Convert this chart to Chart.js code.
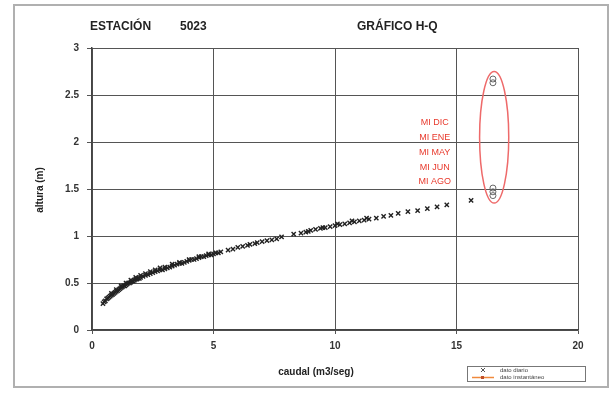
<!DOCTYPE html>
<html>
<head>
<meta charset="utf-8">
<script src="https://cdn.jsdelivr.net/npm/chart.js@4.4.0/dist/chart.umd.min.js"></script>
<style>
  html, body { margin: 0; padding: 0; background: #fff; }
  #wrap { width: 614px; height: 395px; }
</style>
</head>
<body>
<div id="wrap"><canvas id="myChart" width="614" height="395"></canvas></div>
<script>
// dato diario (caudal m3/seg, altura m)
const qDiario = [0.45,0.5,0.55,0.6,0.65,0.7,0.75,0.8,0.85,0.9,0.95,1.0,1.05,1.1,1.15,1.2,1.25,1.3,1.35,1.4,1.45,1.5,1.55,1.6,1.65,1.7,1.75,1.8,1.85,1.9,1.95,2.0,2.1,2.2,2.3,2.4,2.5,2.6,2.7,2.8,2.9,3.0,3.1,3.2,3.3,3.4,3.5,3.6,3.7,3.8,3.9,4.0,4.1,4.2,4.3,4.4,4.5,4.6,4.7,4.8,4.9,5.0,5.1,5.2,5.3,5.6,5.8,6.0,6.2,6.4,6.5,6.7,6.8,7.0,7.2,7.4,7.6,7.8,8.3,8.6,8.8,9.0,9.2,9.4,9.6,9.8,10.0,10.2,10.4,10.6,10.8,11.0,11.2,11.4,11.7,12.0,12.3,12.6,13.0,13.4,13.8,14.2,14.6,15.6,
  0.8,1.0,1.2,1.4,1.6,1.8,2.0,2.2,2.4,2.6,2.8,3.0,3.3,3.6,4.0,4.4,4.8,8.9,9.5,10.1,10.7,11.3];
const hDiario = [0.28,0.30,0.31,0.33,0.34,0.35,0.36,0.37,0.38,0.39,0.40,0.41,0.42,0.43,0.44,0.45,0.46,0.47,0.47,0.48,0.49,0.50,0.50,0.51,0.52,0.52,0.53,0.54,0.54,0.55,0.55,0.56,0.57,0.58,0.59,0.60,0.61,0.62,0.63,0.64,0.64,0.65,0.66,0.67,0.68,0.69,0.70,0.71,0.71,0.72,0.73,0.74,0.75,0.75,0.76,0.77,0.78,0.78,0.79,0.80,0.80,0.81,0.82,0.82,0.83,0.85,0.86,0.88,0.89,0.90,0.91,0.92,0.93,0.94,0.95,0.96,0.97,0.99,1.02,1.03,1.04,1.06,1.07,1.08,1.09,1.10,1.11,1.12,1.13,1.14,1.15,1.16,1.17,1.18,1.19,1.21,1.22,1.24,1.26,1.27,1.29,1.31,1.33,1.38,
  0.39,0.43,0.47,0.50,0.53,0.56,0.58,0.60,0.62,0.64,0.66,0.67,0.70,0.72,0.75,0.78,0.81,1.05,1.09,1.13,1.16,1.19];

// dato instantaneo
const qInst = [16.5,16.5,16.5,16.5,16.5];
const hInst = [2.67,2.63,1.51,1.47,1.43];

const meses = ["MI DIC","MI ENE","MI MAY","MI JUN","MI AGO"];
const mesesQ = 14.1;
const mesesH = [2.21,2.05,1.89,1.73,1.58];

const xTicks = [0,5,10,15,20];
const yTicks = [0,0.5,1,1.5,2,2.5,3];

const diario = qDiario.map((q, i) => ({ x: q, y: hDiario[i] }));
const inst = qInst.map((q, i) => ({ x: q, y: hInst[i] }));

const extras = {
  id: "extras",
  afterDraw(chart) {
    const c = chart.ctx;
    const xs = chart.scales.x, ys = chart.scales.y;
    c.save();
    // outer frame
    c.strokeStyle = "#b0b0b0";
    c.lineWidth = 2;
    c.strokeRect(14, 5, 594, 382);
    // titles
    c.fillStyle = "#222";
    c.font = "bold 12px 'Liberation Sans', Arial, sans-serif";
    c.textBaseline = "middle";
    c.textAlign = "left";
    c.fillText("ESTACIÓN", 90, 27);
    c.fillText("5023", 180, 27);
    c.fillText("GRÁFICO H-Q", 357, 27);
    // axis titles
    c.font = "bold 10px 'Liberation Sans', Arial, sans-serif";
    c.textAlign = "center";
    c.fillText("caudal (m3/seg)", 316, 372);
    c.save();
    c.translate(40, 190);
    c.rotate(-Math.PI / 2);
    c.fillText("altura (m)", 0, 0);
    c.restore();
    // month labels
    c.fillStyle = "#e8392c";
    c.font = "9px 'Liberation Sans', Arial, sans-serif";
    meses.forEach((m, i) => {
      c.fillText(m, xs.getPixelForValue(mesesQ), ys.getPixelForValue(mesesH[i]));
    });
    // ellipse around instantaneous values
    const cx = xs.getPixelForValue(16.55), cy = ys.getPixelForValue(2.05);
    const rx = xs.getPixelForValue(17.15) - cx, ry = cy - ys.getPixelForValue(2.75);
    c.strokeStyle = "#ee6a6a";
    c.lineWidth = 1.5;
    c.beginPath();
    c.ellipse(cx, cy, rx, ry, 0, 0, Math.PI * 2);
    c.stroke();
    // legend box
    c.strokeStyle = "#777";
    c.lineWidth = 1;
    c.strokeRect(467.5, 366.5, 118, 15);
    c.strokeStyle = "#555";
    c.beginPath();
    c.moveTo(481, 368); c.lineTo(485, 372);
    c.moveTo(485, 368); c.lineTo(481, 372);
    c.stroke();
    c.strokeStyle = "#f08a3c";
    c.lineWidth = 1.5;
    c.beginPath();
    c.moveTo(472, 377.5); c.lineTo(494, 377.5);
    c.stroke();
    c.fillStyle = "#c0502a";
    c.fillRect(481, 376, 3, 3);
    c.fillStyle = "#444";
    c.font = "6px 'Liberation Sans', Arial, sans-serif";
    c.textAlign = "left";
    c.fillText("dato diario", 500, 370.5);
    c.fillText("dato instantáneo", 500, 377.5);
    c.restore();
  }
};

new Chart(document.getElementById("myChart"), {
  type: "scatter",
  data: {
    datasets: [
      {
        label: "dato diario",
        data: diario,
        pointStyle: "crossRot",
        pointRadius: 3,
        borderColor: "#222",
        borderWidth: 1.4,
        backgroundColor: "#222",
      },
      {
        label: "dato instantáneo",
        data: inst,
        pointStyle: "circle",
        pointRadius: 3,
        borderColor: "#666",
        borderWidth: 1,
        backgroundColor: "rgba(255,255,255,0)",
      },
    ],
  },
  options: {
    responsive: false,
    animation: false,
    events: [],
    layout: { padding: { left: 14, right: 36, top: 48, bottom: 0 } },
    plugins: { legend: { display: false }, tooltip: { enabled: false } },
    scales: {
      x: {
        type: "linear",
        min: 0,
        max: 20,
        afterBuildTicks: (s) => { s.ticks = xTicks.map((v) => ({ value: v })); },
        afterFit: (s) => { s.height = 65; },
        grid: { color: "#555", lineWidth: 1, tickLength: 4, tickColor: "#555" },
        border: { color: "#444", width: 1.5 },
        ticks: { color: "#333", font: { size: 10, weight: "bold", family: "'Liberation Sans', Arial" }, padding: 6, callback: (v) => String(v) },
      },
      y: {
        type: "linear",
        min: 0,
        max: 3,
        afterBuildTicks: (s) => { s.ticks = yTicks.map((v) => ({ value: v })); },
        afterFit: (s) => { s.width = 78; },
        grid: { color: "#555", lineWidth: 1, tickLength: 5, tickColor: "#555" },
        border: { color: "#444", width: 1.5 },
        ticks: { color: "#333", font: { size: 10, weight: "bold", family: "'Liberation Sans', Arial" }, padding: 8, callback: (v) => String(v) },
      },
    },
  },
  plugins: [extras],
});
</script>
</body>
</html>
